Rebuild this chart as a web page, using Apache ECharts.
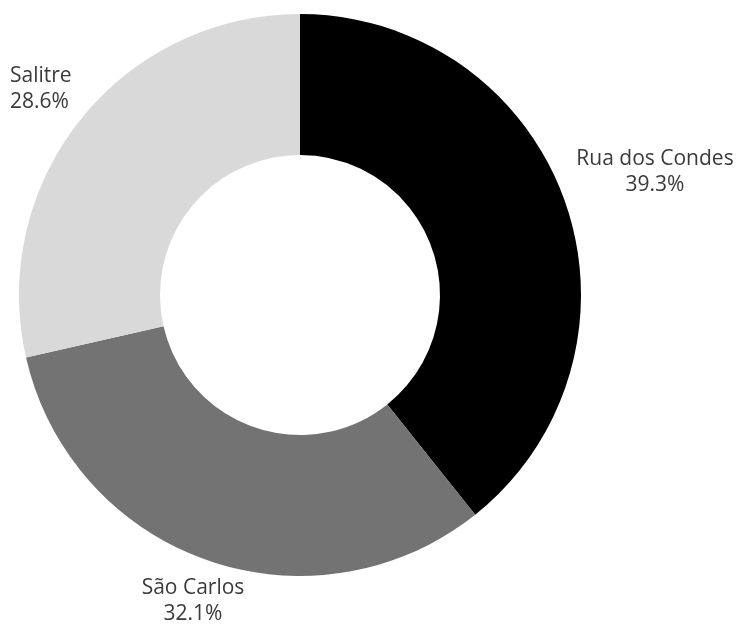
<!DOCTYPE html>
<html>
<head>
<meta charset="utf-8">
<style>
  html, body { margin: 0; padding: 0; background: #fff; }
  #chart { width: 740px; height: 625px; }
</style>
<script src="https://cdn.jsdelivr.net/npm/echarts@6/dist/echarts.min.js"></script>
</head>
<body>
<div id="chart"></div>
<script>
  var categories = ['Rua dos Condes', 'São Carlos', 'Salitre'];
  var values = [11, 9, 8];
  var colors = ['#000000', '#737373', '#d9d9d9'];

  // label anchor points, one per slice
  var labelPos = [
    { x: 655, y: 172, align: 'center' },
    { x: 193, y: 601, align: 'center' },
    { x: 10, y: 89, align: 'left' }
  ];

  var data = [];
  for (var i = 0; i < categories.length; i++) {
    data.push({ name: categories[i], value: values[i], itemStyle: { color: colors[i] } });
  }

  var chart = echarts.init(document.getElementById('chart'));
  chart.setOption({
    backgroundColor: '#fff',
    animation: false,
    series: [{
      type: 'pie',
      center: [300, 295],
      radius: [140, 281],
      startAngle: 90,
      clockwise: true,
      percentPrecision: 1,
      data: data,
      label: {
        show: true,
        position: 'outside',
        formatter: '{b}\n{d}%',
        fontFamily: 'Open Sans',
        fontSize: 21,
        lineHeight: 26,
        color: '#3a3a3a',
        overflow: 'none'
      },
      labelLine: { show: false },
      labelLayout: function (params) {
        var p = labelPos[params.dataIndex];
        return { x: p.x, y: p.y, align: p.align, verticalAlign: 'middle' };
      },
      emphasis: { disabled: true }
    }]
  });
</script>
</body>
</html>
